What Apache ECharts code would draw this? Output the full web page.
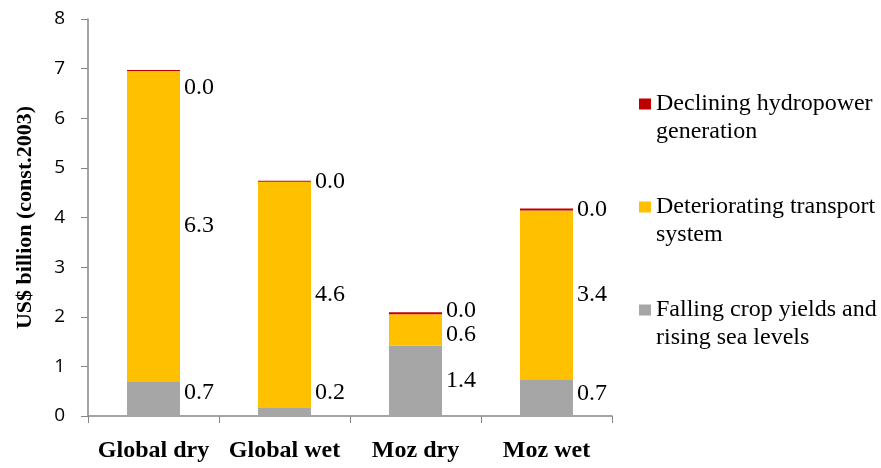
<!DOCTYPE html>
<html>
<head>
<meta charset="utf-8">
<script src="https://cdn.jsdelivr.net/npm/echarts@6/dist/echarts.min.js"></script>
<style>
  html, body { margin: 0; padding: 0; background: #fff; }
  #chart { width: 881px; height: 468px; }
</style>
</head>
<body>
<div id="chart"></div>
<script>
var categories = ['Global dry', 'Global wet', 'Moz dry', 'Moz wet'];
var cropValues = [0.70, 0.16, 1.42, 0.74];
var transportValues = [6.25, 4.56, 0.63, 3.40];
var hydroValues = [0.02, 0.02, 0.04, 0.04];
var seriesNames = ['Declining hydropower generation', 'Deteriorating transport system', 'Falling crop yields and rising sea levels'];
var legendText = {
    'Declining hydropower generation': ' \nDeclining hydropower\ngeneration',
    'Deteriorating transport system': ' \nDeteriorating transport\nsystem',
    'Falling crop yields and rising sea levels': ' \nFalling crop yields and\nrising sea levels'
};

var serif = '"Liberation Serif", "Times New Roman", serif';

function makeSeries(name, values, color, offsets) {
    return {
        name: name,
        type: 'bar',
        stack: 'total',
        barWidth: 53,
        itemStyle: { color: color },
        label: {
            show: true,
            position: 'right',
            distance: 4,
            fontFamily: serif,
            fontSize: 24,
            color: '#000',
            formatter: function (p) { return p.value.toFixed(1); }
        },
        data: values.map(function (v, i) {
            if (offsets && offsets[i]) return { value: v, label: { offset: offsets[i] } };
            return v;
        })
    };
}

var chart = echarts.init(document.getElementById('chart'));
chart.setOption({
    animation: false,
    grid: { left: 88, right: 269, top: 19, bottom: 52 },
    legend: {
        orient: 'vertical',
        left: 634,
        top: 57,
        itemWidth: 12,
        itemHeight: 11,
        itemGap: 19,
        icon: 'rect',
        data: seriesNames,
        formatter: function (n) { return legendText[n]; },
        textStyle: {
            fontFamily: serif,
            fontSize: 24,
            lineHeight: 28,
            color: '#000'
        }
    },
    xAxis: {
        type: 'category',
        data: categories,
        axisLine: { lineStyle: { color: '#878787', width: 1.5 } },
        axisTick: { show: true, length: 7, lineStyle: { color: '#878787' } },
        axisLabel: {
            interval: 0,
            margin: 23,
            fontFamily: serif,
            fontWeight: 'bold',
            fontSize: 24,
            color: '#000'
        }
    },
    yAxis: {
        type: 'value',
        min: 0,
        max: 8,
        interval: 1,
        name: 'US$ billion (const.2003)',
        nameLocation: 'middle',
        nameGap: 52,
        nameTextStyle: {
            fontFamily: serif,
            fontWeight: 'bold',
            fontSize: 22,
            color: '#000'
        },
        axisLine: { show: true, lineStyle: { color: '#878787', width: 1.5 } },
        axisTick: { show: true, length: 7, lineStyle: { color: '#878787' } },
        splitLine: { show: false },
        axisLabel: {
            margin: 23,
            fontFamily: '"Open Sans", "Liberation Sans", sans-serif',
            fontSize: 19,
            color: '#000'
        }
    },
    series: [
        makeSeries(seriesNames[2], cropValues, '#A6A6A6', { 0: [0, -6], 1: [0, -19], 3: [0, -4] }),
        makeSeries(seriesNames[1], transportValues, '#FFC000', { 2: [0, 5] }),
        makeSeries(seriesNames[0], hydroValues, '#C00000', { 0: [0, 17], 2: [0, -3] })
    ]
});
</script>
</body>
</html>
